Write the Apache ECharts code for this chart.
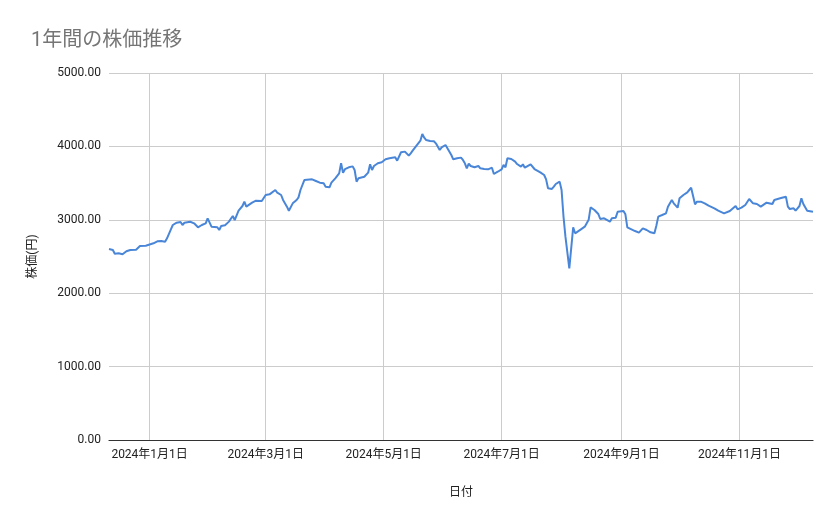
<!DOCTYPE html>
<html>
<head>
<meta charset="utf-8">
<script src="https://cdn.jsdelivr.net/npm/echarts@6/dist/echarts.min.js"></script>
<style>html,body{margin:0;padding:0;background:#fff;}#c{width:839px;height:519px;}</style>
</head>
<body>
<div id="c"></div>
<script>
const chartTitle = '1年間の株価推移';
const xAxisName = '日付';
const yAxisName = '株価(円)';
const xTickDates = ['2024-01-01', '2024-03-01', '2024-05-01', '2024-07-01', '2024-09-01', '2024-11-01'];
const yTicks = [0, 1000, 2000, 3000, 4000, 5000];

const dates = [
  '2023-12-11','2023-12-13','2023-12-14','2023-12-16','2023-12-18','2023-12-20','2023-12-21','2023-12-22','2023-12-25','2023-12-26',
  '2023-12-27','2023-12-28','2023-12-30','2023-12-31','2024-01-03','2024-01-05','2024-01-07','2024-01-09','2024-01-10','2024-01-12',
  '2024-01-13','2024-01-15','2024-01-16','2024-01-17','2024-01-18','2024-01-19','2024-01-22','2024-01-24','2024-01-25','2024-01-26',
  '2024-01-28','2024-01-30','2024-01-31','2024-02-02','2024-02-05','2024-02-06','2024-02-07','2024-02-09','2024-02-11','2024-02-13',
  '2024-02-14','2024-02-15','2024-02-16','2024-02-18','2024-02-19','2024-02-20','2024-02-21','2024-02-23','2024-02-25','2024-02-26',
  '2024-02-28','2024-02-29','2024-03-01','2024-03-03','2024-03-04','2024-03-06','2024-03-07','2024-03-09','2024-03-10','2024-03-12',
  '2024-03-13','2024-03-14','2024-03-15','2024-03-17','2024-03-18','2024-03-19','2024-03-21','2024-03-22','2024-03-25','2024-03-26',
  '2024-03-27','2024-03-28','2024-03-29','2024-03-30','2024-03-31','2024-04-01','2024-04-03','2024-04-04','2024-04-05','2024-04-06',
  '2024-04-08','2024-04-09','2024-04-10','2024-04-11','2024-04-13','2024-04-14','2024-04-15','2024-04-16','2024-04-17','2024-04-18',
  '2024-04-19','2024-04-21','2024-04-22','2024-04-23','2024-04-24','2024-04-25','2024-04-26','2024-04-28','2024-04-30','2024-05-01',
  '2024-05-02','2024-05-04','2024-05-07','2024-05-08','2024-05-10','2024-05-12','2024-05-13','2024-05-14','2024-05-15','2024-05-16',
  '2024-05-18','2024-05-20','2024-05-21','2024-05-22','2024-05-23','2024-05-25','2024-05-27','2024-05-28','2024-05-30','2024-05-31',
  '2024-06-02','2024-06-03','2024-06-05','2024-06-06','2024-06-08','2024-06-10','2024-06-11','2024-06-12','2024-06-13','2024-06-14',
  '2024-06-15','2024-06-17','2024-06-18','2024-06-19','2024-06-20','2024-06-22','2024-06-24','2024-06-26','2024-06-27','2024-06-29',
  '2024-07-01','2024-07-02','2024-07-03','2024-07-04','2024-07-06','2024-07-08','2024-07-09','2024-07-11','2024-07-12','2024-07-13',
  '2024-07-14','2024-07-16','2024-07-17','2024-07-18','2024-07-19','2024-07-21','2024-07-23','2024-07-24','2024-07-25','2024-07-27',
  '2024-07-28','2024-07-29','2024-07-30','2024-07-31','2024-08-01','2024-08-02','2024-08-03','2024-08-05','2024-08-07','2024-08-08',
  '2024-08-09','2024-08-11','2024-08-13','2024-08-15','2024-08-16','2024-08-18','2024-08-20','2024-08-21','2024-08-23','2024-08-24',
  '2024-08-26','2024-08-27','2024-08-29','2024-08-30','2024-09-02','2024-09-03','2024-09-04','2024-09-05','2024-09-08','2024-09-10',
  '2024-09-11','2024-09-12','2024-09-14','2024-09-16','2024-09-18','2024-09-19','2024-09-20','2024-09-22','2024-09-24','2024-09-25',
  '2024-09-27','2024-09-28','2024-09-30','2024-10-01','2024-10-03','2024-10-05','2024-10-06','2024-10-07','2024-10-09','2024-10-10',
  '2024-10-12','2024-10-14','2024-10-16','2024-10-19','2024-10-21','2024-10-24','2024-10-25','2024-10-27','2024-10-30','2024-10-31',
  '2024-11-02','2024-11-04','2024-11-06','2024-11-08','2024-11-10','2024-11-11','2024-11-12','2024-11-15','2024-11-16','2024-11-18',
  '2024-11-19','2024-11-20','2024-11-22','2024-11-25','2024-11-26','2024-11-27','2024-11-29','2024-11-30','2024-12-01','2024-12-02',
  '2024-12-03','2024-12-04','2024-12-06','2024-12-09'
];
const prices = [
  2602,2589,2538,2543,2530,2571,2557,2589,2593,2616,
  2643,2640,2647,2666,2680,2707,2711,2702,2748,2870,
  2929,2960,2943,2970,2929,2960,2974,2952,2943,2898,
  2929,2952,3020,2906,2898,2861,2916,2927,2975,3052,
  2997,3007,3124,3188,3247,3179,3179,3233,3260,3279,
  3256,3270,3338,3347,3340,3406,3369,3338,3270,3179,
  3124,3134,3224,3270,3306,3406,3542,3556,3551,3542,
  3529,3551,3506,3529,3497,3451,3443,3506,3520,3565,
  3633,3770,3642,3690,3715,3706,3728,3678,3520,3565,
  3551,3587,3610,3642,3756,3678,3733,3770,3783,3756,
  3824,3838,3851,3806,3920,3929,3906,3874,3906,3942,
  4010,4078,4169,4119,4087,4074,4070,4042,3951,3987,
  4019,4029,3883,3824,3838,3847,3815,3770,3701,3765,
  3733,3715,3688,3733,3701,3692,3688,3710,3624,3655,
  3688,3747,3715,3838,3828,3792,3760,3724,3756,3710,
  3733,3756,3760,3692,3678,3647,3610,3551,3429,3420,
  3451,3488,3483,3520,3406,3043,2770,2339,2898,2816,
  2838,2870,2906,3000,3170,3134,3079,3011,3020,2997,
  2974,3020,3029,3110,3120,3075,2898,2875,2847,2825,
  2847,2884,2861,2830,2816,2920,3043,3065,3088,3179,
  3270,3224,3165,3293,3338,3374,3406,3438,3211,3247,
  3247,3224,3192,3156,3124,3088,3075,3120,3188,3143,
  3165,3202,3283,3224,3215,3202,3179,3233,3233,3215,
  3270,3260,3293,3315,3179,3147,3156,3124,3156,3188,
  3293,3215,3124,3110
];

const FONT = 'Roboto, "Noto Sans CJK JP", "Noto Sans", sans-serif';
const parseT = s => { const p = s.split('-').map(Number); return Date.UTC(p[0], p[1] - 1, p[2]); };
const fmtDate = v => { const d = new Date(v); return d.getUTCFullYear() + '年' + (d.getUTCMonth() + 1) + '月' + d.getUTCDate() + '日'; };
const seriesData = dates.map((d, i) => [parseT(d), prices[i]]);
const xTickValues = xTickDates.map(parseT);

const chart = echarts.init(document.getElementById('c'), null, { renderer: 'canvas' });
chart.setOption({
  backgroundColor: '#ffffff',
  animation: false,
  title: {
    text: chartTitle,
    left: 26,
    top: 26,
    textStyle: { color: '#757575', fontSize: 20, fontWeight: 'normal', fontFamily: FONT }
  },
  grid: { left: 109, right: 26, top: 73, bottom: 79, containLabel: false, outerBoundsMode: 'none' },
  xAxis: {
    type: 'value',
    min: parseT(dates[0]),
    max: parseT(dates[dates.length - 1]),
    scale: true,
    name: xAxisName,
    nameLocation: 'middle',
    nameGap: 47,
    nameTextStyle: { color: '#222', fontSize: 12, fontFamily: FONT },
    axisLine: { show: true, onZero: false, lineStyle: { color: '#333', width: 1.2 } },
    axisTick: { show: false, customValues: xTickValues },
    axisLabel: {
      customValues: xTickValues,
      color: '#222', fontSize: 12, fontFamily: FONT, margin: 9,
      showMinLabel: true, showMaxLabel: true, hideOverlap: false,
      formatter: fmtDate
    },
    splitLine: { show: true, lineStyle: { color: '#cccccc', width: 1 } }
  },
  yAxis: {
    type: 'value',
    min: yTicks[0],
    max: yTicks[yTicks.length - 1],
    interval: yTicks[1] - yTicks[0],
    name: yAxisName,
    nameLocation: 'middle',
    nameGap: 70,
    nameRotate: 90,
    nameTextStyle: { color: '#222', fontSize: 12, fontFamily: FONT },
    axisLine: { show: false },
    axisTick: { show: false },
    axisLabel: { color: '#222', fontSize: 12, fontFamily: FONT, margin: 8, formatter: v => v.toFixed(2) },
    splitLine: { show: true, lineStyle: { color: '#cccccc', width: 1 } }
  },
  series: [{
    type: 'line',
    data: seriesData,
    showSymbol: false,
    symbol: 'none',
    lineStyle: { color: '#4a86d8', width: 2 },
    itemStyle: { color: '#4a86d8' }
  }]
});
</script>
</body>
</html>
